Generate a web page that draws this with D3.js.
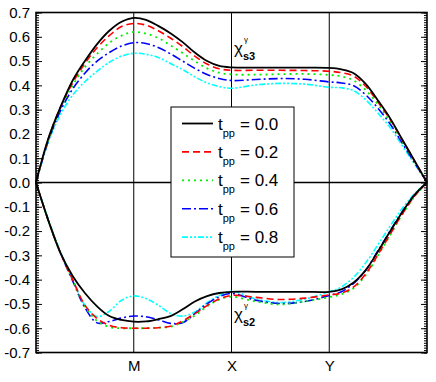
<!DOCTYPE html>
<html>
<head>
<meta charset="utf-8">
<script src="https://cdn.jsdelivr.net/npm/d3@7"></script>
<style>
  body { margin: 0; background: #fff; }
  svg { display: block; font-family: "Liberation Sans", Arial, sans-serif; }
</style>
</head>
<body>
<svg id="chart" width="436" height="382"></svg>
<script>
// path coordinate: 0 = Gamma, 1 = M, 2 = X, 3 = Y, 4 = Gamma
const kGrid = [0, 0.125, 0.25, 0.375, 0.5, 0.625, 0.75, 0.875, 1, 1.125, 1.25, 1.375, 1.5, 1.625, 1.75, 1.875,
  2, 2.25, 2.5, 2.75, 3, 3.125, 3.25, 3.375, 3.5, 3.625, 3.75, 3.875, 4];

const tppValues = ['0.0', '0.2', '0.4', '0.6', '0.8'];
const pathLabels = ['M', 'X', 'Y'];
const pathTicks = [1, 2, 3];
const yTicks = [0.7, 0.6, 0.5, 0.4, 0.3, 0.2, 0.1, 0, -0.1, -0.2, -0.3, -0.4, -0.5, -0.6, -0.7];

// chi_s3 (upper branch)
const s3_t00 = [0, 0.18, 0.31, 0.42, 0.50, 0.57, 0.625, 0.662, 0.678, 0.67, 0.645, 0.615, 0.578, 0.535, 0.50, 0.48,
  0.474, 0.473, 0.473, 0.473, 0.472, 0.466, 0.45, 0.405, 0.337, 0.263, 0.175, 0.088, 0];
const s3_t02 = [0, 0.178, 0.31, 0.41, 0.49, 0.555, 0.605, 0.642, 0.655, 0.648, 0.625, 0.595, 0.56, 0.52, 0.488, 0.468,
  0.462, 0.462, 0.462, 0.461, 0.458, 0.452, 0.438, 0.395, 0.33, 0.258, 0.172, 0.087, 0];
const s3_t04 = [0, 0.175, 0.305, 0.40, 0.475, 0.53, 0.575, 0.605, 0.62, 0.613, 0.595, 0.565, 0.533, 0.50, 0.47, 0.452,
  0.445, 0.444, 0.446, 0.447, 0.443, 0.437, 0.42, 0.38, 0.32, 0.25, 0.168, 0.085, 0];
const s3_t06 = [0, 0.17, 0.295, 0.385, 0.45, 0.50, 0.535, 0.562, 0.576, 0.572, 0.556, 0.53, 0.50, 0.47, 0.445, 0.428,
  0.42, 0.424, 0.428, 0.425, 0.414, 0.41, 0.398, 0.36, 0.305, 0.24, 0.16, 0.08, 0];
const s3_t08 = [0, 0.165, 0.28, 0.36, 0.415, 0.458, 0.495, 0.52, 0.532, 0.528, 0.515, 0.49, 0.465, 0.435, 0.41, 0.395,
  0.388, 0.402, 0.408, 0.405, 0.392, 0.39, 0.378, 0.34, 0.285, 0.225, 0.15, 0.075, 0];

// chi_s2 (lower branch)
const s2_t00 = [0, -0.155, -0.29, -0.385, -0.455, -0.51, -0.55, -0.566, -0.573, -0.572, -0.563, -0.55, -0.522, -0.49, -0.468, -0.455,
  -0.45, -0.45, -0.45, -0.45, -0.45, -0.44, -0.412, -0.36, -0.283, -0.2, -0.12, -0.05, 0];
const s2_t02 = [0, -0.155, -0.29, -0.40, -0.505, -0.56, -0.588, -0.598, -0.60, -0.60, -0.598, -0.592, -0.57, -0.54, -0.507, -0.48,
  -0.465, -0.473, -0.482, -0.476, -0.463, -0.455, -0.43, -0.375, -0.296, -0.212, -0.128, -0.055, 0];
const s2_t04 = [0, -0.155, -0.29, -0.40, -0.51, -0.57, -0.595, -0.60, -0.60, -0.60, -0.598, -0.594, -0.575, -0.548, -0.51, -0.482,
  -0.47, -0.49, -0.502, -0.49, -0.472, -0.46, -0.435, -0.38, -0.30, -0.215, -0.13, -0.057, 0];
const s2_t06 = [0, -0.155, -0.29, -0.405, -0.515, -0.578, -0.572, -0.558, -0.55, -0.553, -0.565, -0.58, -0.577, -0.54, -0.50, -0.47,
  -0.457, -0.485, -0.498, -0.49, -0.465, -0.45, -0.415, -0.36, -0.28, -0.198, -0.118, -0.05, 0];
const s2_t08 = [0, -0.15, -0.285, -0.40, -0.505, -0.552, -0.53, -0.485, -0.467, -0.478, -0.505, -0.539, -0.55, -0.533, -0.495, -0.465,
  -0.448, -0.48, -0.494, -0.48, -0.45, -0.43, -0.39, -0.33, -0.255, -0.178, -0.105, -0.045, 0];

const s3Series = [s3_t00, s3_t02, s3_t04, s3_t06, s3_t08];
const s2Series = [s2_t00, s2_t02, s2_t04, s2_t06, s2_t08];

const colors = ['#000000', '#ff0000', '#00ee00', '#0000ff', '#00ffff'];
const dashes = [null, '7,4', '2,4', '9,3,2,3', '6,2,2,2,2,2'];
const widths = [1.8, 1.6, 1.8, 1.6, 1.6];

const svg = d3.select('#chart');
const plotL = 36;
const plotR = 427;
const plotT = 12.5;
const plotB = 352.5;

const x = d3.scaleLinear().domain([0, 4]).range([plotL, plotR]);
const y = d3.scaleLinear().domain([-0.7, 0.7]).range([plotB, plotT]);

// path vertical lines and zero line
svg.append('g')
    .selectAll('line')
    .data(pathTicks)
    .enter()
    .append('line')
    .attr('x1', (d) => x(d)).attr('x2', (d) => x(d))
    .attr('y1', plotT).attr('y2', plotB)
    .attr('stroke', '#000')
    .attr('stroke-width', 1);

svg.append('line')
    .attr('x1', plotL).attr('x2', plotR)
    .attr('y1', y(0)).attr('y2', y(0))
    .attr('stroke', '#000')
    .attr('stroke-width', 1.4);

// curves
const line = d3.line()
    .x((d, i) => x(kGrid[i]))
    .y((d) => y(d))
    .curve(d3.curveCatmullRom.alpha(0.5));

function drawSeries(series, cls) {
  // draw in reverse so the black curve ends on top
  const order = [4, 3, 2, 1, 0];
  svg.append('g')
      .attr('class', cls)
      .selectAll('path')
      .data(order)
      .enter()
      .append('path')
      .attr('d', (i) => line(series[i]))
      .attr('fill', 'none')
      .attr('stroke', (i) => colors[i])
      .attr('stroke-width', (i) => widths[i])
      .attr('stroke-dasharray', (i) => dashes[i]);
}
drawSeries(s3Series, 's3');
drawSeries(s2Series, 's2');

// axes with inward ticks
const fmt = (d) => d.toFixed(1);
const minorTicks = d3.range(-70, 71).map((d) => d / 100);
const fontFam = '"Liberation Sans", Arial, sans-serif';

svg.append('g')
    .attr('transform', `translate(${plotL},0)`)
    .call(d3.axisLeft(y).tickValues(minorTicks).tickSize(-3).tickFormat(''))
    .call((g) => g.select('.domain').remove());
svg.append('g')
    .attr('transform', `translate(${plotL},0)`)
    .call(d3.axisLeft(y).tickValues(yTicks).tickSize(-6).tickPadding(6).tickFormat(fmt))
    .call((g) => g.select('.domain').remove())
    .call((g) => g.selectAll('text').attr('font-size', 15).attr('fill', '#000')
        .attr('font-family', fontFam));

svg.append('g')
    .attr('transform', `translate(${plotR},0)`)
    .call(d3.axisRight(y).tickValues(minorTicks).tickSize(-3).tickFormat(''))
    .call((g) => g.select('.domain').remove());
svg.append('g')
    .attr('transform', `translate(${plotR},0)`)
    .call(d3.axisRight(y).tickValues(yTicks).tickSize(-6).tickFormat(''))
    .call((g) => g.select('.domain').remove());

svg.append('g')
    .attr('transform', `translate(0,${plotB})`)
    .call(d3.axisBottom(x).tickValues(pathTicks).tickSize(0).tickPadding(8)
        .tickFormat((d, i) => pathLabels[i]))
    .call((g) => g.select('.domain').remove())
    .call((g) => g.selectAll('text').attr('font-size', 15).attr('fill', '#000')
        .attr('font-family', fontFam));

// frame
svg.append('rect')
    .attr('x', plotL).attr('y', plotT)
    .attr('width', plotR - plotL).attr('height', plotB - plotT)
    .attr('fill', 'none')
    .attr('stroke', '#000')
    .attr('stroke-width', 1.6);

// chi labels
function chiLabel(px, py, sub) {
  const t = svg.append('text')
      .attr('x', px).attr('y', py)
      .attr('font-size', 17)
      .attr('fill', '#000');
  t.append('tspan').text('χ');
  t.append('tspan').attr('font-size', 8).attr('dx', 1).attr('dy', -12).text('γ');
  t.append('tspan').attr('font-size', 11).attr('font-weight', 'bold')
      .attr('dx', -5).attr('dy', 18).text(sub);
}
chiLabel(234, 54, 's3');
chiLabel(234, 320, 's2');

// legend
const legend = svg.append('g').attr('transform', 'translate(171,107)');
legend.append('rect')
    .attr('width', 123).attr('height', 150)
    .attr('fill', '#fff')
    .attr('stroke', '#000')
    .attr('stroke-width', 1);

const rows = legend.selectAll('g.row')
    .data(tppValues)
    .enter()
    .append('g')
    .attr('class', 'row')
    .attr('transform', (d, i) => `translate(0,${16.5 + i * 28.4})`);
rows.append('line')
    .attr('x1', 11).attr('x2', 42)
    .attr('y1', 0).attr('y2', 0)
    .attr('stroke', (d, i) => colors[i])
    .attr('stroke-width', (d, i) => widths[i])
    .attr('stroke-dasharray', (d, i) => dashes[i]);
const lt = rows.append('text')
    .attr('x', 47).attr('y', 6)
    .attr('font-size', 17)
    .attr('fill', '#000');
lt.append('tspan').text('t');
lt.append('tspan').attr('font-size', 11).attr('dy', 7).text('pp');
lt.append('tspan').attr('dy', -7).attr('dx', 5).text((d) => '= ' + d);
</script>
</body>
</html>
